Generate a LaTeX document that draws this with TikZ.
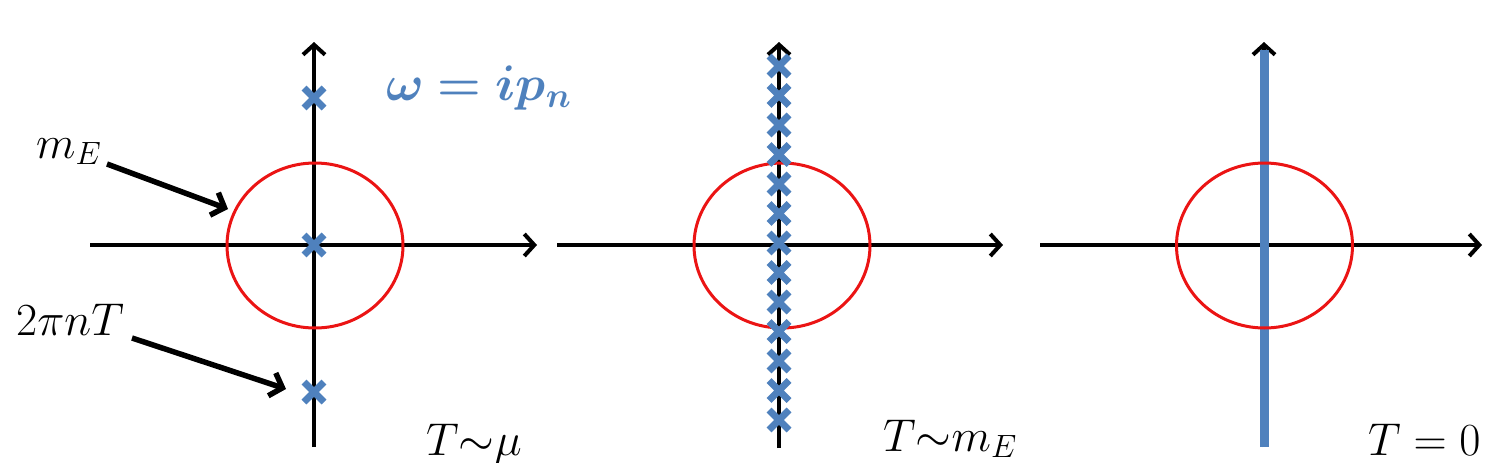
\documentclass[tikz,border=0pt]{standalone}
\usepackage{fix-cm}
\usepackage{amsmath,bm}
\usetikzlibrary{arrows.meta,shapes.misc}
\definecolor{xblue}{RGB}{79,129,189}
\definecolor{cred}{RGB}{235,20,20}
\tikzset{
  axis/.style={line width=4pt,black,-{Straight Barb[length=10pt,width=22pt]}},
  pointer/.style={line width=5.5pt,black,-{Straight Barb[length=11pt,width=24pt]}},
  mcirc/.style={draw=cred,line width=3pt},
  pole/.style={cross out,draw=xblue,line width=7pt,minimum size=13pt,inner sep=0pt},
  lab/.style={inner sep=0pt,font=\fontsize{46}{50}\selectfont},
}
\begin{document}
\begin{tikzpicture}[x=1pt,y=-1pt]
\useasboundingbox (0,0) rectangle (1505,463);
% ---------- panel 1 ----------
\coordinate (h1a) at (90,245);  \coordinate (h1b) at (537,245);
\coordinate (v1a) at (314,447); \coordinate (v1b) at (314,42);
\draw[axis] (h1a) -- (h1b);
\draw[axis] (v1a) -- (v1b);
\draw[mcirc] (315,245.5) ellipse [x radius=88,y radius=82.5];
\node[pole] (p1a) at (314,98) {};
\node[pole] (p1b) at (314,245) {};
\node[pole] (p1c) at (314,392) {};
\node[lab,anchor=base west] (mE) at (36,158) {$m_E$};
\node[lab,anchor=base west] (tpn) at (16,335) {$2\pi nT$};
\coordinate (mEs) at (107,164); \coordinate (mEt) at (228,209);
\coordinate (tps) at (132,338); \coordinate (tpt) at (286,389);
\draw[pointer] (mEs) -- (mEt);
\draw[pointer] (tps) -- (tpt);
\node[lab,anchor=base west,text=xblue,font=\fontsize{50}{54}\selectfont] (om) at (386,100) {$\bm{\omega = i p_n}$};
\node[lab,anchor=base west] (t1) at (426,455) {$T{\sim}\mu$};
% ---------- panel 2 ----------
\coordinate (h2a) at (557,245);  \coordinate (h2b) at (1003,245);
\coordinate (v2a) at (779,448); \coordinate (v2b) at (779,42);
\draw[axis] (h2a) -- (h2b);
\draw[axis] (v2a) -- (v2b);
\draw[mcirc] (782,245.5) ellipse [x radius=88,y radius=82.5];
\foreach \k in {0,...,12}{
  \node[pole] (p2\k) at (779,{66+29.5*\k}) {};
}
\node[lab,anchor=base west] (t2) at (883,451) {$T{\sim}m_E$};
% ---------- panel 3 ----------
\coordinate (h3a) at (1040,245);  \coordinate (h3b) at (1482,245);
\coordinate (v3a) at (1264,447); \coordinate (v3b) at (1264,42);
\coordinate (v3c) at (1264,50);
\draw[axis] (h3a) -- (h3b);
\draw[axis] (v3a) -- (v3b);
\draw[xblue,line width=9pt] (v3a) -- (v3c);
\draw[mcirc] (1264.5,245.5) ellipse [x radius=88,y radius=82.5];
\node[lab,anchor=base west] (t3) at (1368,455) {$T=0$};
\end{tikzpicture}
\end{document}
